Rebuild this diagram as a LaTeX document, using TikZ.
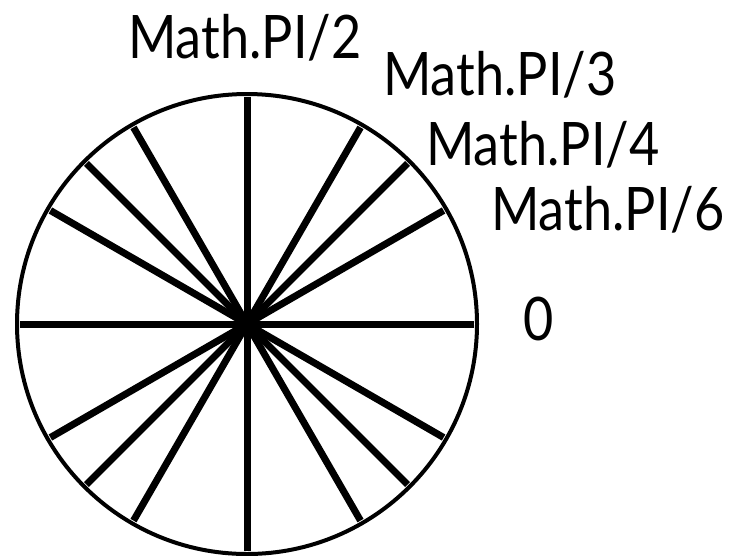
\documentclass[tikz,border=0pt]{standalone}
\usepackage{fontspec}
\newfontfamily\labelfont[FakeStretch=0.87]{Lato}
\usepackage{tikz}
\usetikzlibrary{positioning}

\begin{document}
\begin{tikzpicture}[x=1pt,y=-1pt,line join=round]
\tikzset{rim/.style={line width=4pt},
  spoke/.style={line width=7pt},
  anglabel/.style={anchor=base west,inner sep=0pt,font=\labelfont\fontsize{60}{72}\selectfont}}
\useasboundingbox (0,0) rectangle (733,555);
% wheel: circle plus the eight diameters
\coordinate (o) at (247,324);
\draw[rim] (o) circle[radius=230pt];
\foreach \a in {0,30,45,60,90,120,135,150}{
  \draw[spoke,shift={(o)}] (\a:227) -- (\a+180:227);}
% angle names
\node[anglabel] (pi2) at (128,58)  {Math.PI/2};
\node[anglabel] (pi3) at (383,95)  {Math.PI/3};
\node[anglabel] (pi4) at (426,165) {Math.PI/4};
\node[anglabel] (pi6) at (491,230) {Math.PI/6};
\node[anglabel] (zero) at (523,340) {0};
\end{tikzpicture}
\end{document}
